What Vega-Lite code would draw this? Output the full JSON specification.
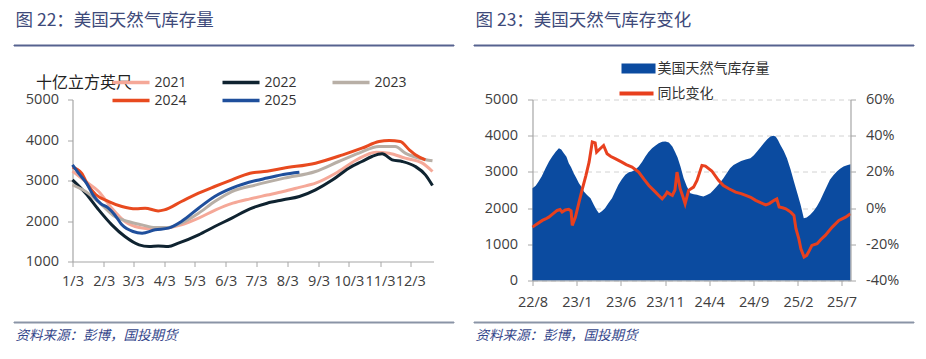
{
  "$schema": "https://vega.github.io/schema/vega-lite/v6.json",
  "autosize": {"type": "pad"},
  "padding": {"left": 12.5, "top": 11.5, "right": 12.5, "bottom": 14},
  "background": "white",
  "datasets": {
    "years": [
      {"s":"2021","d":"2021-01-03","v":3230},{"s":"2021","d":"2021-01-16","v":2975},{"s":"2021","d":"2021-01-29","v":2728},{"s":"2021","d":"2021-02-11","v":2316},{"s":"2021","d":"2021-02-24","v":1988},{"s":"2021","d":"2021-03-09","v":1840},{"s":"2021","d":"2021-03-22","v":1807},{"s":"2021","d":"2021-04-03","v":1820},{"s":"2021","d":"2021-04-20","v":1905},{"s":"2021","d":"2021-05-07","v":2070},{"s":"2021","d":"2021-05-24","v":2275},{"s":"2021","d":"2021-06-10","v":2440},{"s":"2021","d":"2021-06-27","v":2547},{"s":"2021","d":"2021-07-14","v":2640},{"s":"2021","d":"2021-07-30","v":2728},{"s":"2021","d":"2021-08-15","v":2830},{"s":"2021","d":"2021-08-31","v":2934},{"s":"2021","d":"2021-09-20","v":3180},{"s":"2021","d":"2021-10-10","v":3500},{"s":"2021","d":"2021-10-30","v":3700},{"s":"2021","d":"2021-11-12","v":3675},{"s":"2021","d":"2021-11-28","v":3551},{"s":"2021","d":"2021-12-15","v":3428},{"s":"2021","d":"2021-12-25","v":3222},
      {"s":"2022","d":"2022-01-03","v":3017},{"s":"2022","d":"2022-01-16","v":2687},{"s":"2022","d":"2022-01-29","v":2275},{"s":"2022","d":"2022-02-11","v":1905},{"s":"2022","d":"2022-02-24","v":1617},{"s":"2022","d":"2022-03-09","v":1411},{"s":"2022","d":"2022-03-19","v":1370},{"s":"2022","d":"2022-03-28","v":1385},{"s":"2022","d":"2022-04-07","v":1370},{"s":"2022","d":"2022-04-17","v":1452},{"s":"2022","d":"2022-05-07","v":1659},{"s":"2022","d":"2022-05-23","v":1864},{"s":"2022","d":"2022-06-09","v":2070},{"s":"2022","d":"2022-06-27","v":2300},{"s":"2022","d":"2022-07-14","v":2440},{"s":"2022","d":"2022-07-30","v":2523},{"s":"2022","d":"2022-08-15","v":2605},{"s":"2022","d":"2022-08-31","v":2770},{"s":"2022","d":"2022-09-17","v":3017},{"s":"2022","d":"2022-10-03","v":3304},{"s":"2022","d":"2022-10-16","v":3469},{"s":"2022","d":"2022-10-26","v":3593},{"s":"2022","d":"2022-11-05","v":3659},{"s":"2022","d":"2022-11-15","v":3511},{"s":"2022","d":"2022-11-25","v":3469},{"s":"2022","d":"2022-12-08","v":3346},{"s":"2022","d":"2022-12-18","v":3140},{"s":"2022","d":"2022-12-25","v":2876},
      {"s":"2023","d":"2023-01-03","v":2893},{"s":"2023","d":"2023-01-16","v":2728},{"s":"2023","d":"2023-02-01","v":2399},{"s":"2023","d":"2023-02-14","v":2111},{"s":"2023","d":"2023-02-27","v":1988},{"s":"2023","d":"2023-03-12","v":1905},{"s":"2023","d":"2023-03-25","v":1840},{"s":"2023","d":"2023-04-07","v":1840},{"s":"2023","d":"2023-04-20","v":1947},{"s":"2023","d":"2023-05-07","v":2193},{"s":"2023","d":"2023-05-23","v":2481},{"s":"2023","d":"2023-06-09","v":2728},{"s":"2023","d":"2023-07-03","v":2893},{"s":"2023","d":"2023-07-31","v":3058},{"s":"2023","d":"2023-08-31","v":3222},{"s":"2023","d":"2023-09-23","v":3469},{"s":"2023","d":"2023-10-13","v":3675},{"s":"2023","d":"2023-11-02","v":3840},{"s":"2023","d":"2023-11-18","v":3840},{"s":"2023","d":"2023-11-28","v":3675},{"s":"2023","d":"2023-12-12","v":3551},{"s":"2023","d":"2023-12-25","v":3486},
      {"s":"2024","d":"2024-01-03","v":3330},{"s":"2024","d":"2024-01-12","v":3180},{"s":"2024","d":"2024-01-19","v":2860},{"s":"2024","d":"2024-01-26","v":2654},{"s":"2024","d":"2024-02-08","v":2481},{"s":"2024","d":"2024-02-21","v":2358},{"s":"2024","d":"2024-03-06","v":2300},{"s":"2024","d":"2024-03-15","v":2316},{"s":"2024","d":"2024-03-28","v":2250},{"s":"2024","d":"2024-04-03","v":2275},{"s":"2024","d":"2024-04-20","v":2481},{"s":"2024","d":"2024-05-07","v":2687},{"s":"2024","d":"2024-05-23","v":2852},{"s":"2024","d":"2024-06-09","v":3017},{"s":"2024","d":"2024-06-27","v":3181},{"s":"2024","d":"2024-07-14","v":3230},{"s":"2024","d":"2024-07-30","v":3304},{"s":"2024","d":"2024-08-31","v":3428},{"s":"2024","d":"2024-09-27","v":3634},{"s":"2024","d":"2024-10-16","v":3798},{"s":"2024","d":"2024-11-02","v":3963},{"s":"2024","d":"2024-11-12","v":3987},{"s":"2024","d":"2024-11-23","v":3963},{"s":"2024","d":"2024-12-02","v":3758},{"s":"2024","d":"2024-12-08","v":3634},{"s":"2024","d":"2024-12-18","v":3511},
      {"s":"2025","d":"2025-01-03","v":3388},{"s":"2025","d":"2025-01-10","v":3150},{"s":"2025","d":"2025-01-17","v":2930},{"s":"2025","d":"2025-01-24","v":2620},{"s":"2025","d":"2025-01-31","v":2430},{"s":"2025","d":"2025-02-07","v":2330},{"s":"2025","d":"2025-02-14","v":2150},{"s":"2025","d":"2025-02-21","v":1905},{"s":"2025","d":"2025-03-03","v":1740},{"s":"2025","d":"2025-03-12","v":1700},{"s":"2025","d":"2025-03-25","v":1782},{"s":"2025","d":"2025-04-07","v":1823},{"s":"2025","d":"2025-04-20","v":1988},{"s":"2025","d":"2025-05-07","v":2316},{"s":"2025","d":"2025-05-23","v":2605},{"s":"2025","d":"2025-06-09","v":2811},{"s":"2025","d":"2025-07-03","v":3000},{"s":"2025","d":"2025-07-14","v":3060},{"s":"2025","d":"2025-07-30","v":3150},{"s":"2025","d":"2025-08-15","v":3205}
    ],
    "stock": [
      {"d":"2022-08-01","v":2550},{"d":"2022-08-12","v":2620},{"d":"2022-08-22","v":2735},{"d":"2022-09-02","v":2880},{"d":"2022-09-15","v":3102},{"d":"2022-09-27","v":3290},{"d":"2022-10-08","v":3425},{"d":"2022-10-20","v":3560},{"d":"2022-10-31","v":3655},{"d":"2022-11-08","v":3620},{"d":"2022-11-17","v":3517},{"d":"2022-11-26","v":3420},{"d":"2022-12-04","v":3240},{"d":"2022-12-12","v":3130},{"d":"2022-12-21","v":2964},{"d":"2022-12-30","v":2830},
      {"d":"2023-01-08","v":2688},{"d":"2023-01-16","v":2600},{"d":"2023-01-25","v":2459},{"d":"2023-02-05","v":2360},{"d":"2023-02-17","v":2273},{"d":"2023-03-01","v":2080},{"d":"2023-03-10","v":1950},{"d":"2023-03-18","v":1859},{"d":"2023-03-28","v":1910},{"d":"2023-04-08","v":1997},{"d":"2023-04-20","v":2140},{"d":"2023-05-02","v":2273},{"d":"2023-05-13","v":2460},{"d":"2023-05-24","v":2643},{"d":"2023-06-05","v":2800},{"d":"2023-06-17","v":2920},{"d":"2023-06-29","v":2990},{"d":"2023-07-10","v":3011},{"d":"2023-07-21","v":3060},{"d":"2023-08-02","v":3149},{"d":"2023-08-14","v":3280},{"d":"2023-08-25","v":3425},{"d":"2023-09-05","v":3550},{"d":"2023-09-17","v":3655},{"d":"2023-09-28","v":3720},{"d":"2023-10-10","v":3793},{"d":"2023-10-22","v":3830},{"d":"2023-11-02","v":3840},{"d":"2023-11-14","v":3810},{"d":"2023-11-26","v":3702},{"d":"2023-12-05","v":3560},{"d":"2023-12-14","v":3400},{"d":"2023-12-24","v":3150},
      {"d":"2024-01-04","v":2826},{"d":"2024-01-15","v":2600},{"d":"2024-01-27","v":2412},{"d":"2024-02-08","v":2380},{"d":"2024-02-19","v":2366},{"d":"2024-03-01","v":2340},{"d":"2024-03-12","v":2320},{"d":"2024-03-24","v":2360},{"d":"2024-04-05","v":2412},{"d":"2024-04-16","v":2500},{"d":"2024-04-27","v":2597},{"d":"2024-05-08","v":2700},{"d":"2024-05-20","v":2826},{"d":"2024-06-01","v":2970},{"d":"2024-06-12","v":3102},{"d":"2024-06-24","v":3190},{"d":"2024-07-05","v":3240},{"d":"2024-07-20","v":3300},{"d":"2024-08-05","v":3340},{"d":"2024-08-21","v":3378},{"d":"2024-09-02","v":3460},{"d":"2024-09-13","v":3564},{"d":"2024-09-25","v":3680},{"d":"2024-10-06","v":3793},{"d":"2024-10-18","v":3900},{"d":"2024-10-29","v":3978},{"d":"2024-11-08","v":4000},{"d":"2024-11-16","v":3978},{"d":"2024-11-24","v":3880},{"d":"2024-12-02","v":3748},{"d":"2024-12-14","v":3580},{"d":"2024-12-25","v":3378},
      {"d":"2025-01-06","v":3080},{"d":"2025-01-18","v":2735},{"d":"2025-01-30","v":2400},{"d":"2025-02-10","v":2091},{"d":"2025-02-21","v":1721},{"d":"2025-03-03","v":1740},{"d":"2025-03-15","v":1815},{"d":"2025-03-27","v":1920},{"d":"2025-04-07","v":2044},{"d":"2025-04-19","v":2220},{"d":"2025-04-30","v":2412},{"d":"2025-05-11","v":2600},{"d":"2025-05-22","v":2782},{"d":"2025-06-03","v":2910},{"d":"2025-06-15","v":3011},{"d":"2025-06-26","v":3090},{"d":"2025-07-08","v":3149},{"d":"2025-07-20","v":3185},{"d":"2025-08-01","v":3213}
    ],
    "yoy": [
      {"d":"2022-08-01","p":-0.105},{"d":"2022-08-14","p":-0.09},{"d":"2022-09-04","p":-0.068},{"d":"2022-09-15","p":-0.06},{"d":"2022-09-26","p":-0.05},{"d":"2022-10-08","p":-0.035},{"d":"2022-10-25","p":-0.013},{"d":"2022-11-04","p":-0.008},{"d":"2022-11-11","p":-0.022},{"d":"2022-11-22","p":-0.01},{"d":"2022-12-04","p":-0.007},{"d":"2022-12-12","p":-0.015},{"d":"2022-12-16","p":-0.096},{"d":"2022-12-27","p":-0.05},
      {"d":"2023-01-08","p":0.03},{"d":"2023-01-20","p":0.107},{"d":"2023-02-01","p":0.18},{"d":"2023-02-12","p":0.254},{"d":"2023-02-23","p":0.365},{"d":"2023-03-05","p":0.36},{"d":"2023-03-10","p":0.309},{"d":"2023-03-22","p":0.328},{"d":"2023-04-03","p":0.346},{"d":"2023-04-15","p":0.30},{"d":"2023-04-28","p":0.285},{"d":"2023-05-13","p":0.273},{"d":"2023-06-05","p":0.254},{"d":"2023-06-20","p":0.24},{"d":"2023-07-10","p":0.227},{"d":"2023-08-02","p":0.199},{"d":"2023-08-20","p":0.16},{"d":"2023-09-06","p":0.125},{"d":"2023-09-29","p":0.088},{"d":"2023-10-10","p":0.07},{"d":"2023-10-22","p":0.051},{"d":"2023-11-01","p":0.07},{"d":"2023-11-08","p":0.088},{"d":"2023-11-20","p":0.075},{"d":"2023-11-26","p":0.07},{"d":"2023-12-05","p":0.10},{"d":"2023-12-12","p":0.199},{"d":"2023-12-23","p":0.107},
      {"d":"2024-01-02","p":0.06},{"d":"2024-01-09","p":0.024},{"d":"2024-01-21","p":0.098},{"d":"2024-02-07","p":0.116},{"d":"2024-02-19","p":0.153},{"d":"2024-03-07","p":0.236},{"d":"2024-03-19","p":0.232},{"d":"2024-04-10","p":0.205},{"d":"2024-05-03","p":0.153},{"d":"2024-05-20","p":0.125},{"d":"2024-06-08","p":0.107},{"d":"2024-07-01","p":0.088},{"d":"2024-07-20","p":0.08},{"d":"2024-08-05","p":0.07},{"d":"2024-08-22","p":0.06},{"d":"2024-09-08","p":0.043},{"d":"2024-09-25","p":0.03},{"d":"2024-10-13","p":0.018},{"d":"2024-10-25","p":0.025},{"d":"2024-11-11","p":0.043},{"d":"2024-11-20","p":0.051},{"d":"2024-11-28","p":0.006},{"d":"2024-12-10","p":0.002},{"d":"2024-12-21","p":-0.004},
      {"d":"2025-01-07","p":-0.022},{"d":"2025-01-18","p":-0.04},{"d":"2025-01-25","p":-0.114},{"d":"2025-02-04","p":-0.17},{"d":"2025-02-11","p":-0.225},{"d":"2025-02-22","p":-0.27},{"d":"2025-03-03","p":-0.261},{"d":"2025-03-12","p":-0.235},{"d":"2025-03-21","p":-0.206},{"d":"2025-04-08","p":-0.197},{"d":"2025-04-20","p":-0.175},{"d":"2025-05-06","p":-0.151},{"d":"2025-05-30","p":-0.105},{"d":"2025-06-22","p":-0.068},{"d":"2025-07-15","p":-0.05},{"d":"2025-08-01","p":-0.031}
    ]
  },
  "columns": 1,
  "align": "each",
  "bounds": "full",
  "spacing": 11,
  "resolve": {
    "scale": {"color": "independent", "fill": "independent", "stroke": "independent"},
    "legend": {"color": "independent", "fill": "independent", "stroke": "independent"}
  },
  "concat": [
    {
      "bounds": "flush",
      "spacing": 20,
      "hconcat": [
        {
          "width": 440, "height": 1,
          "data": {"values": []},
          "mark": "point",
          "view": {"stroke": "#56638f", "fill": "#56638f", "strokeWidth": 1},
          "title": {"text": "图 22：美国天然气库存量", "anchor": "start", "fontSize": 17.5, "color": "#3e4a7a", "offset": 15, "dx": 2, "font": "Noto Sans CJK SC", "fontWeight": "normal"}
        },
        {
          "width": 440, "height": 1,
          "data": {"values": []},
          "mark": "point",
          "view": {"stroke": "#56638f", "fill": "#56638f", "strokeWidth": 1},
          "title": {"text": "图 23：美国天然气库存变化", "anchor": "start", "fontSize": 17.5, "color": "#3e4a7a", "offset": 15, "dx": 2, "font": "Noto Sans CJK SC", "fontWeight": "normal"}
        }
      ]
    },
    {
      "bounds": "flush",
      "spacing": 0,
      "resolve": {
        "scale": {"color": "independent", "fill": "independent", "stroke": "independent"},
        "legend": {"color": "independent", "fill": "independent", "stroke": "independent"}
      },
      "hconcat": [
        {"width": 59, "height": 1, "data": {"values": []}, "mark": "point"},
        {
          "width": 361, "height": 162,
          "data": {"name": "years"},
          "mark": {"type": "line", "strokeWidth": 3, "interpolate": "monotone"},
          "encoding": {
            "x": {
              "field": "d", "type": "temporal", "timeUnit": "utcmonthdate",
              "scale": {"domain": [{"month": 1, "date": 3, "utc": true}, {"month": 12, "date": 26, "utc": true}]},
              "axis": {
                "title": null, "labelExpr": "utcFormat(datum.value, '%-m/%-d')", "labelOverlap": false, "labelFlush": false, "labelPadding": 8,
                "values": [
                  {"month": 1, "date": 3, "utc": true}, {"month": 2, "date": 3, "utc": true}, {"month": 3, "date": 3, "utc": true},
                  {"month": 4, "date": 3, "utc": true}, {"month": 5, "date": 3, "utc": true}, {"month": 6, "date": 3, "utc": true},
                  {"month": 7, "date": 3, "utc": true}, {"month": 8, "date": 3, "utc": true}, {"month": 9, "date": 3, "utc": true},
                  {"month": 10, "date": 3, "utc": true}, {"month": 11, "date": 3, "utc": true}, {"month": 12, "date": 3, "utc": true}
                ]
              }
            },
            "y": {
              "field": "v", "type": "quantitative",
              "scale": {"domain": [1000, 5000], "nice": false, "zero": false},
              "axis": {
                "values": [1000, 2000, 3000, 4000, 5000], "format": "d", "labelPadding": 9,
                "title": "十亿立方英尺", "titleAngle": 0, "titleAlign": "left", "titleBaseline": "middle",
                "titleX": -37, "titleY": -17, "titleFont": "Noto Sans CJK SC", "titleFontSize": 16,
                "titleFontWeight": "normal", "titleColor": "#222222"
              }
            },
            "color": {
              "field": "s", "type": "nominal",
              "scale": {"domain": ["2021", "2022", "2023", "2024", "2025"], "range": ["#f5a898", "#0f2330", "#b8afa6", "#e84a1f", "#1f4f9c"]},
              "legend": {
                "title": null, "orient": "none", "legendX": 38, "legendY": -26, "direction": "horizontal", "columns": 3, "columnPadding": 28, "rowPadding": 2,
                "symbolType": "M-1,0H4.29", "symbolSize": 196, "symbolStrokeWidth": 3.5, "labelOffset": 26,
                "labelFont": "Open Sans", "labelFontSize": 14, "labelColor": "#333333", "padding": 0
              }
            }
          }
        },
        {"width": 99, "height": 1, "data": {"values": []}, "mark": "point"},
        {
          "width": 318, "height": 181,
          "layer": [
            {
              "data": {"name": "stock"},
              "mark": {"type": "area", "interpolate": "linear"},
              "encoding": {
                "x": {
                  "field": "d", "type": "temporal",
                  "scale": {"type": "utc", "domain": [{"year": 2022, "month": 8, "date": 1, "utc": true}, {"year": 2025, "month": 8, "date": 1, "utc": true}]},
                  "axis": {
                    "title": null, "labelExpr": "utcFormat(datum.value, '%y/%-m')", "labelOverlap": false, "labelFlush": false, "labelPadding": 10, "zindex": 1,
                    "values": [
                      {"year": 2022, "month": 8, "date": 1, "utc": true}, {"year": 2023, "month": 1, "date": 1, "utc": true},
                      {"year": 2023, "month": 6, "date": 1, "utc": true}, {"year": 2023, "month": 11, "date": 1, "utc": true},
                      {"year": 2024, "month": 4, "date": 1, "utc": true}, {"year": 2024, "month": 9, "date": 1, "utc": true},
                      {"year": 2025, "month": 2, "date": 1, "utc": true}, {"year": 2025, "month": 7, "date": 1, "utc": true}
                    ]
                  }
                },
                "y": {
                  "field": "v", "type": "quantitative",
                  "scale": {"domain": [0, 5000], "nice": false},
                  "axis": {"title": null, "values": [0, 1000, 2000, 3000, 4000, 5000], "format": "d", "grid": true, "gridDash": [5, 4], "gridColor": "#d2d2d2", "labelPadding": 10}
                },
                "fill": {
                  "datum": "美国天然气库存量",
                  "scale": {"range": ["#0b4ba0"]},
                  "legend": {
                    "title": null, "orient": "none", "legendX": 85, "legendY": -42,
                    "symbolType": "M-1,-0.7H3.86V0.7H-1Z", "symbolSize": 196, "symbolStrokeWidth": 0, "labelOffset": 22,
                    "labelFont": "Noto Sans CJK SC", "labelFontSize": 14, "labelColor": "#333333", "padding": 4
                  }
                }
              }
            },
            {
              "data": {"name": "yoy"},
              "mark": {"type": "line", "strokeWidth": 3, "interpolate": "linear"},
              "encoding": {
                "x": {"field": "d", "type": "temporal"},
                "y": {
                  "field": "p", "type": "quantitative",
                  "scale": {"domain": [-0.4, 0.6], "nice": false, "zero": false},
                  "axis": {"title": null, "orient": "right", "values": [-0.4, -0.2, 0, 0.2, 0.4, 0.6], "format": ".0%", "labelExpr": "replace(datum.label, '−', '-')", "labelPadding": 10, "zindex": 1}
                },
                "stroke": {
                  "datum": "同比变化",
                  "scale": {"range": ["#e8401e"]},
                  "legend": {
                    "title": null, "orient": "none", "legendX": 85, "legendY": -15,
                    "symbolType": "M-1,0H3.86", "symbolSize": 196, "symbolStrokeWidth": 4, "labelOffset": 22,
                    "labelFont": "Noto Sans CJK SC", "labelFontSize": 14, "labelColor": "#333333", "padding": 0
                  }
                }
              }
            }
          ],
          "resolve": {"scale": {"y": "independent"}}
        }
      ]
    },
    {
      "bounds": "flush",
      "spacing": 20,
      "hconcat": [
        {
          "width": 440, "height": 1,
          "data": {"values": []},
          "mark": "point",
          "view": {"stroke": "#8a94a6", "fill": "#8a94a6", "strokeWidth": 1},
          "title": {"text": "资料来源：彭博，国投期货", "orient": "bottom", "anchor": "start", "fontSize": 13.5, "fontStyle": "italic", "color": "#34468a", "offset": 6, "dx": 2, "font": "Noto Sans CJK SC", "fontWeight": "normal"}
        },
        {
          "width": 440, "height": 1,
          "data": {"values": []},
          "mark": "point",
          "view": {"stroke": "#8a94a6", "fill": "#8a94a6", "strokeWidth": 1},
          "title": {"text": "资料来源：彭博，国投期货", "orient": "bottom", "anchor": "start", "fontSize": 13.5, "fontStyle": "italic", "color": "#34468a", "offset": 6, "dx": 2, "font": "Noto Sans CJK SC", "fontWeight": "normal"}
        }
      ]
    }
  ],
  "config": {
    "view": {"stroke": null},
    "font": "Open Sans",
    "axis": {"labelFont": "Open Sans", "labelFontSize": 14.5, "labelColor": "#404040", "domainColor": "#a6a6a6", "domainWidth": 1.2, "tickColor": "#a6a6a6", "tickSize": 5, "grid": false}
  }
}
